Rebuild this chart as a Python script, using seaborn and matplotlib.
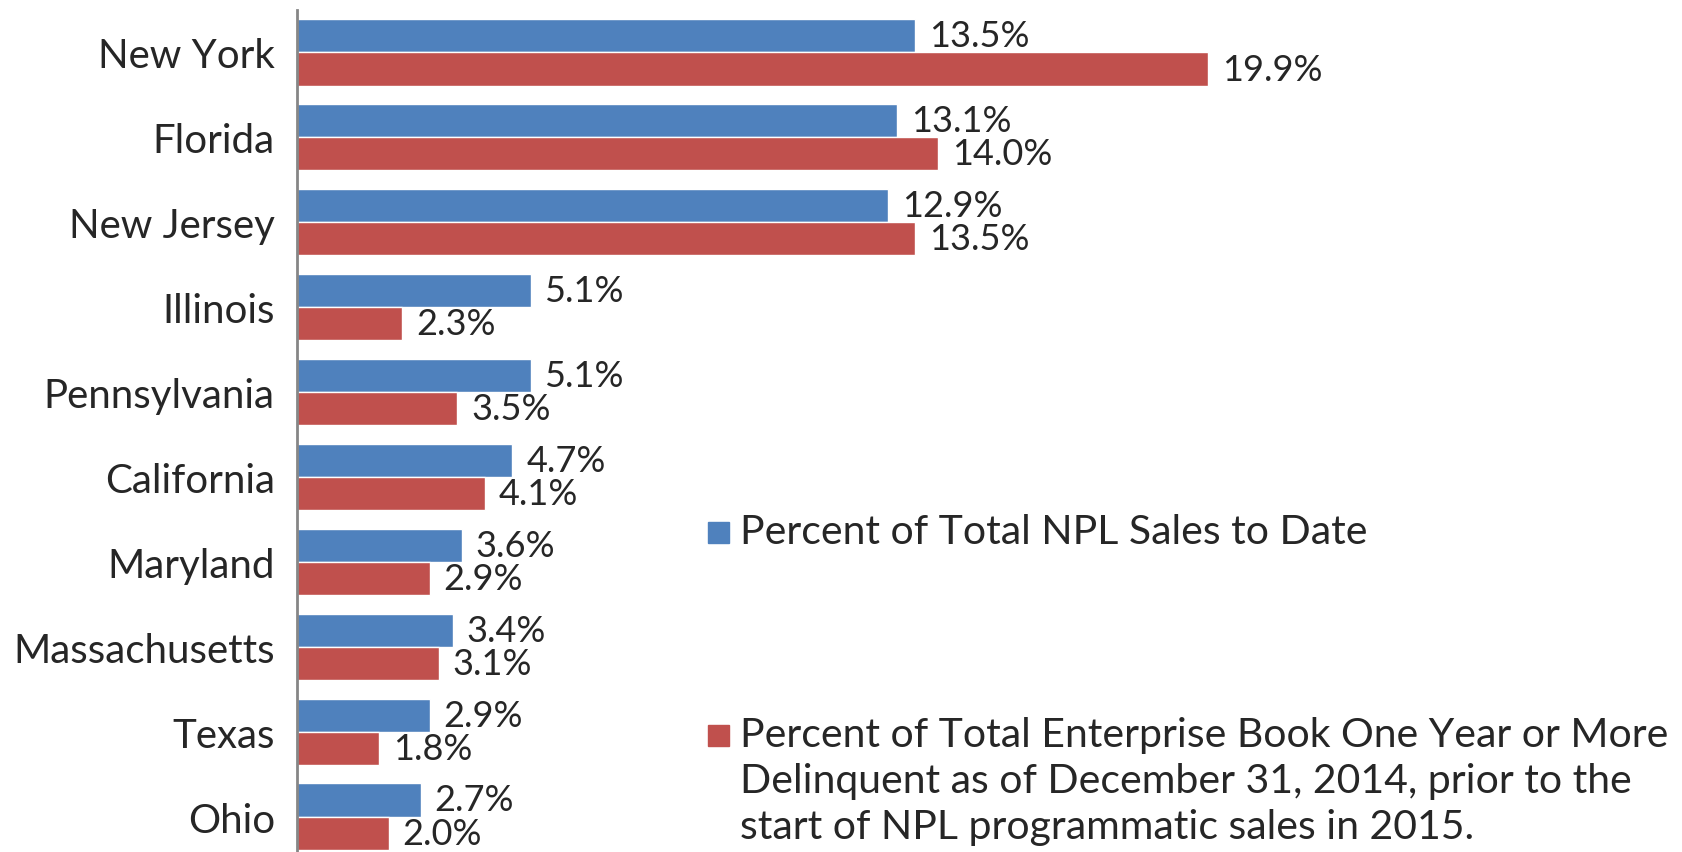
import pandas as pd
import matplotlib.pyplot as plt
import seaborn as sns
from matplotlib.patches import Rectangle

states = ["New York", "Florida", "New Jersey", "Illinois", "Pennsylvania",
          "California", "Maryland", "Massachusetts", "Texas", "Ohio"]
npl_sales = [13.5, 13.1, 12.9, 5.1, 5.1, 4.7, 3.6, 3.4, 2.9, 2.7]
delinquent = [19.9, 14.0, 13.5, 2.3, 3.5, 4.1, 2.9, 3.1, 1.8, 2.0]
series = ["Percent of Total NPL Sales to Date",
          "Percent of Total Enterprise Book One Year or More\n"
          "Delinquent as of December 31, 2014, prior to the\n"
          "start of NPL programmatic sales in 2015."]
colors = ["#4F81BD", "#C0504D"]

df = pd.DataFrame({"state": states * 2,
                   "value": npl_sales + delinquent,
                   "series": [series[0]] * len(states) + [series[1]] * len(states)})

sns.set_style("white")
plt.rcParams["font.family"] = ["Lato", "DejaVu Sans"]

W, H = 1682, 853
fig = plt.figure(figsize=(W / 100, H / 100), dpi=100)
ax_left, ax_top, ax_bot = 297, 11, 860
ax = fig.add_axes([ax_left / W, (H - ax_bot) / H, (W - ax_left) / W, (ax_bot - ax_top) / H])

sns.barplot(data=df, y="state", x="value", hue="series", orient="h",
            palette=colors, width=0.78, saturation=1, ax=ax, legend=False)

for cont in ax.containers:
    ax.bar_label(cont, labels=[f"{v:.1f}%" for v in cont.datavalues],
                 padding=10, fontsize=26)

px_per_pct = 45.8
ax.set_xlim(0, (W - ax_left) / px_per_pct)
ax.set_xlabel("")
ax.set_ylabel("")
ax.set_xticks([])
ax.tick_params(axis="y", length=0, labelsize=29, pad=16)
for s in ["top", "right", "bottom"]:
    ax.spines[s].set_visible(False)
ax.spines["left"].set_color("#868686")
ax.spines["left"].set_linewidth(2)

# legend drawn by hand, Excel style
sq = 21
line_h = 46
for (cy, col, lab) in zip([533, 736], colors, series):
    fig.patches.append(Rectangle(((718 - sq / 2) / W, (H - cy - sq / 2) / H), sq / W, sq / H,
                                 transform=fig.transFigure, color=col, figure=fig))
    for i, line in enumerate(lab.split("\n")):
        fig.text(740 / W, (H - cy - i * line_h) / H, line, fontsize=29.5,
                 va="center", ha="left")

fig.savefig("out.png", dpi=100)
